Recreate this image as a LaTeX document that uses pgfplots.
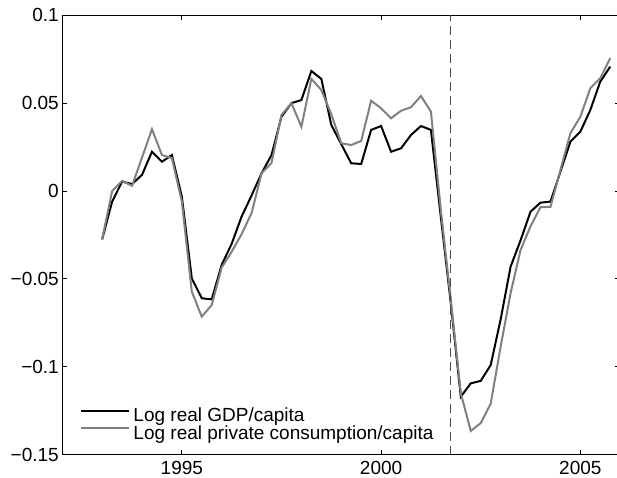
\documentclass[border=0pt]{standalone}
\usepackage{fontspec}
\setmainfont{Liberation Sans}
\usepackage{pgfplots}
\usepackage{pgfplotstable}
\pgfplotsset{compat=1.18}

% Quarterly log deviations: real GDP per capita and real private consumption per capita
\pgfplotstableread{
t        gdp      cons
1993.00  -0.0275  -0.0275
1993.25  -0.0060   0.0000
1993.50   0.0054   0.0058
1993.75   0.0040   0.0030
1994.00   0.0092   0.0190
1994.25   0.0224   0.0352
1994.50   0.0167   0.0205
1994.75   0.0205   0.0188
1995.00  -0.0032  -0.0060
1995.25  -0.0497  -0.0572
1995.50  -0.0610  -0.0715
1995.75  -0.0616  -0.0648
1996.00  -0.0420  -0.0435
1996.25  -0.0300  -0.0345
1996.50  -0.0145  -0.0245
1996.75  -0.0025  -0.0125
1997.00   0.0101   0.0101
1997.25   0.0205   0.0160
1997.50   0.0423   0.0433
1997.75   0.0500   0.0500
1998.00   0.0518   0.0366
1998.25   0.0683   0.0638
1998.50   0.0638   0.0575
1998.75   0.0376   0.0437
1999.00   0.0267   0.0272
1999.25   0.0158   0.0262
1999.50   0.0154   0.0285
1999.75   0.0348   0.0514
2000.00   0.0370   0.0471
2000.25   0.0224   0.0414
2000.50   0.0243   0.0457
2000.75   0.0319   0.0477
2001.00   0.0370   0.0541
2001.25   0.0348   0.0452
2001.50  -0.0150  -0.0110
2001.75  -0.0640  -0.0620
2002.00  -0.1170  -0.1150
2002.25  -0.1094  -0.1365
2002.50  -0.1080  -0.1320
2002.75  -0.0990  -0.1210
2003.00  -0.0730  -0.0885
2003.25  -0.0430  -0.0580
2003.50  -0.0280  -0.0335
2003.75  -0.0117  -0.0200
2004.00  -0.0066  -0.0092
2004.25  -0.0060  -0.0090
2004.50   0.0110   0.0120
2004.75   0.0281   0.0329
2005.00   0.0338   0.0423
2005.25   0.0461   0.0585
2005.50   0.0623   0.0642
2005.75   0.0708   0.0756
}\datatable

\definecolor{consgray}{gray}{0.5}
\definecolor{markgray}{gray}{0.3}

\begin{document}
\begin{tikzpicture}
\begin{axis}[
  name=ax,
  scale only axis,
  width=557.9bp, height=439.4bp,
  xmin=1992, xmax=2006,
  ymin=-0.15, ymax=0.1,
  xtick={1995,2000,2005},
  xticklabels={1995,2000,2005},
  ytick={-0.15,-0.1,-0.05,0,0.05,0.1},
  yticklabels={−0.15,−0.1,−0.05,0,0.05,0.1},
  tick align=inside,
  major tick length=5bp,
  axis line style={line width=0.9bp},
  every tick/.style={black, line width=0.9bp},
  font=\fontsize{19bp}{22bp}\selectfont,
  xticklabel style={yshift=-3bp},
  legend style={draw=none, fill=none, at={(rel axis cs:0,0)}, anchor=south west,
    xshift=15bp, yshift=12bp, row sep=2bp,
    nodes={inner sep=0bp}, column sep=3bp},
  legend cell align=left,
  legend image code/.code={\draw[#1, line width=2bp] (0bp,5bp) -- (48bp,5bp);},
]
\addplot[black, line width=2bp] table[x=t, y=gdp] {\datatable};
\addlegendentry{Log real GDP/capita}
\addplot[consgray, line width=2bp] table[x=t, y=cons] {\datatable};
\addlegendentry{Log real private consumption/capita}
\addplot[markgray, line width=1.2bp, dash pattern=on 9bp off 5bp, forget plot]
  coordinates {(2001.75,-0.15) (2001.75,0.1)};
\end{axis}
\pgfresetboundingbox
\path[use as bounding box] (ax.south west) ++(-62.3bp,-23.3bp) rectangle ++(617bp,478bp);
\end{tikzpicture}
\end{document}
